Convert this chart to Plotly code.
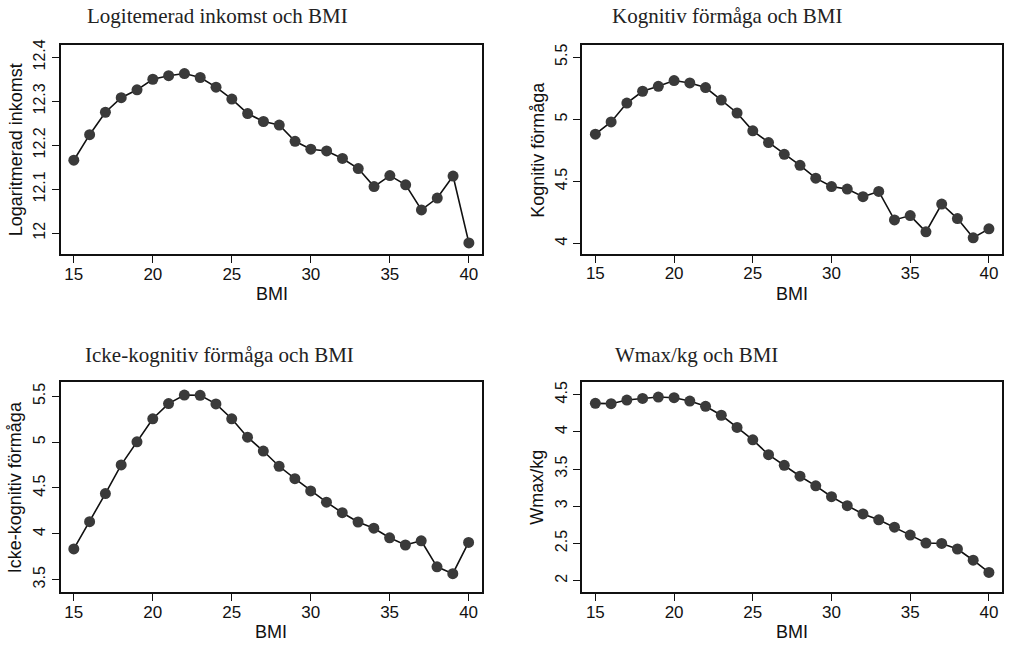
import plotly.graph_objects as go

W, H = 1010, 645

bmi = list(range(15, 41))

log_income = [12.166, 12.224, 12.275, 12.308, 12.326, 12.350, 12.358, 12.363, 12.354,
              12.332, 12.305, 12.272, 12.254, 12.246, 12.209, 12.191, 12.187, 12.170,
              12.147, 12.106, 12.131, 12.110, 12.053, 12.080, 12.130, 11.978]

cognitive = [4.880, 4.979, 5.131, 5.226, 5.266, 5.312, 5.293, 5.256, 5.155, 5.051,
             4.907, 4.813, 4.718, 4.630, 4.526, 4.459, 4.438, 4.377, 4.419, 4.190,
             4.225, 4.094, 4.318, 4.201, 4.046, 4.118]

noncognitive = [3.835, 4.133, 4.439, 4.752, 5.004, 5.255, 5.421, 5.514, 5.511, 5.417,
                5.255, 5.054, 4.903, 4.737, 4.601, 4.468, 4.345, 4.230, 4.129, 4.061,
                3.957, 3.878, 3.924, 3.640, 3.565, 3.906]

wmax_kg = [4.384, 4.380, 4.429, 4.451, 4.469, 4.460, 4.415, 4.344, 4.224, 4.060,
           3.893, 3.693, 3.551, 3.404, 3.275, 3.128, 3.008, 2.897, 2.817, 2.719,
           2.612, 2.505, 2.500, 2.425, 2.274, 2.110]

titles = ["Logitemerad inkomst och BMI", "Kognitiv förmåga och BMI",
          "Icke-kognitiv förmåga och BMI", "Wmax/kg och BMI"]
ytitles = ["Logaritmerad inkomst", "Kognitiv förmåga", "Icke-kognitiv förmåga", "Wmax/kg"]
x_ticks = [15, 20, 25, 30, 35, 40]
y_ticks = [[12, 12.1, 12.2, 12.3, 12.4], [4, 4.5, 5, 5.5],
           [3.5, 4, 4.5, 5, 5.5], [2, 2.5, 3, 3.5, 4, 4.5]]
y_ticktext = [["12", "12.1", "12.2", "12.3", "12.4"], ["4", "4.5", "5", "5.5"],
              ["3.5", "4", "4.5", "5", "5.5"], ["2", "2.5", "3", "3.5", "4", "4.5"]]
series = [log_income, cognitive, noncognitive, wmax_kg]

# layout (pixel frames)
frames = [(60.7, 482.3, 39.3, 250.7), (582.3, 1002.3, 39.3, 250.4),
          (60.7, 482.0, 380.0, 592.0), (582.3, 1002.3, 380.0, 592.0)]
y_ranges = [[11.952, 12.428], [3.915, 5.599], [3.360, 5.651], [1.84, 4.665]]
x_range = [14.17, 40.85]
title_left = [85, 610, 83, 613]
title_mid = [10, 10, 352.5, 352.5]

fig = go.Figure()
annotations = []
layout = {}
font_sans = "Liberation Sans, Arial, sans-serif"
for i in range(4):
    sfx = "" if i == 0 else str(i + 1)
    x0, x1, y0, y1 = frames[i]
    fig.add_trace(go.Scatter(
        x=bmi, y=series[i], mode="lines+markers",
        line=dict(color="#111111", width=1.6),
        marker=dict(color="#3a3a3a", size=11, line=dict(width=0)),
        xaxis="x" + sfx, yaxis="y" + sfx, showlegend=False, hoverinfo="x+y"))
    layout["xaxis" + sfx] = dict(
        domain=[x0 / W, x1 / W], anchor="y" + sfx, range=x_range,
        tickvals=x_ticks, ticks="outside", ticklen=7, tickwidth=1.2, tickcolor="#111",
        showline=True, linecolor="#111", linewidth=1.8, mirror=True,
        showgrid=False, zeroline=False, ticklabelstandoff=-4,
        tickfont=dict(family=font_sans, size=17, color="#111"))
    layout["yaxis" + sfx] = dict(
        domain=[1 - y1 / H, 1 - y0 / H], anchor="x" + sfx, range=y_ranges[i],
        tickvals=y_ticks[i], ticktext=y_ticktext[i], tickangle=-90,
        ticks="outside", ticklen=7, tickwidth=1.2, tickcolor="#111",
        showline=True, linecolor="#111", linewidth=1.8, mirror=True,
        showgrid=False, zeroline=False,
        tickfont=dict(family=font_sans, size=16, color="#111"))
    # panel title
    annotations.append(dict(
        text=titles[i], x=title_left[i] / W, y=1 - title_mid[i] / H,
        xref="paper", yref="paper", xanchor="left", yanchor="middle", showarrow=False,
        font=dict(family="Liberation Serif, Times New Roman, serif", size=21, color="#222")))
    # x axis title
    annotations.append(dict(
        text="BMI", x=(x0 + x1) / 2 / W, y=1 - (y1 + 40) / H,
        xref="paper", yref="paper", xanchor="center", yanchor="middle", showarrow=False,
        font=dict(family=font_sans, size=18, color="#111")))
    # y axis title
    annotations.append(dict(
        text=ytitles[i], x=(x0 - 45) / W, y=1 - (y0 + y1) / 2 / H, textangle=-90,
        xref="paper", yref="paper", xanchor="center", yanchor="middle", showarrow=False,
        font=dict(family=font_sans, size=18, color="#111")))

fig.update_layout(
    width=W, height=H, margin=dict(l=0, r=0, t=0, b=0),
    paper_bgcolor="white", plot_bgcolor="white",
    annotations=annotations, **layout)

fig.write_html("out.html", config={"displayModeBar": False},
               post_script="document.body.style.margin='0';document.body.style.padding='0';"
                           "document.body.style.overflow='hidden';")
